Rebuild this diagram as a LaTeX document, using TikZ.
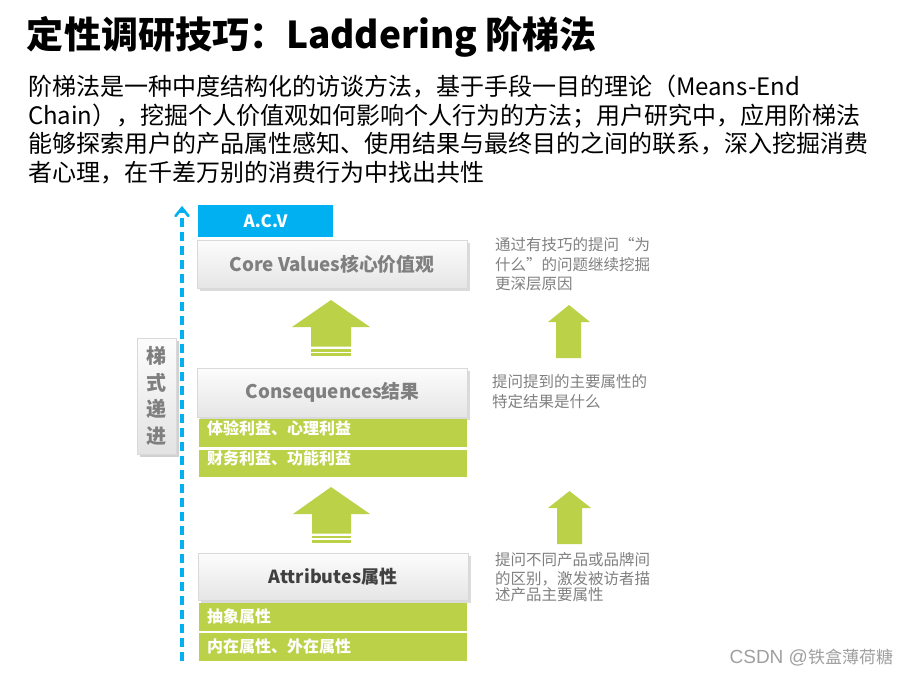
\documentclass[tikz,border=0pt]{standalone}
\usepackage{fontspec}
\setmainfont{Noto Sans CJK SC}
\newfontfamily\latinsans{Liberation Sans}
\usetikzlibrary{shadows,arrows.meta}
\definecolor{acvblue}{HTML}{00B0F0}
\definecolor{leaf}{HTML}{BBD147}
\definecolor{tiertext}{HTML}{7F7F7F}
\definecolor{tierdark}{HTML}{404040}
\definecolor{notegray}{HTML}{808080}
\newcommand{\fsz}[2]{\fontsize{#1}{#2}\selectfont}

\begin{document}
\begin{tikzpicture}[x=1pt,y=-1pt,
  every node/.style={inner sep=0pt, outer sep=0pt},
  tier/.style={draw=gray!30, line width=0.8pt, top color=gray!2, bottom color=gray!20,
    drop shadow={shadow xshift=2.5pt, shadow yshift=-2.5pt, opacity=0.35, fill=gray!80},
    minimum width=270pt, minimum height=48pt, font=\bfseries\fsz{18.8}{20}, text=tiertext},
  bar/.style={fill=leaf, minimum width=268pt, minimum height=28pt},
  bartext/.style={anchor=west, text=white, font=\bfseries\fsz{16}{18}},
  paraline/.style={anchor=base west, font=\fsz{24}{28}, text=black},
  note/.style={anchor=base west, font=\fsz{15.5}{19}, text=notegray},
  blockarrow/.style={fill=leaf},
]
\useasboundingbox (0,0) rectangle (909,675);

% heading and introduction
\node[anchor=base west, font=\bfseries\fsz{37}{40}] (title) at (27,48.5) {定性调研技巧：Laddering 阶梯法};
\node[paraline] (p1) at (28,95) {阶梯法是一种中度结构化的访谈方法，基于手段一目的理论（Means-End};
\node[paraline] (p2) at (28,124) {Chain），挖掘个人价值观如何影响个人行为的方法；用户研究中，应用阶梯法};
\node[paraline] (p3) at (28,152.5) {能够探索用户的产品属性感知、使用结果与最终目的之间的联系，深入挖掘消费};
\node[paraline] (p4) at (28,181) {者心理，在千差万别的消费行为中找出共性};

% progression axis
\coordinate (axisbot) at (182,661);
\coordinate (axistop) at (182,208);
\draw[line width=3.5pt, draw=acvblue, dash pattern=on 9pt off 5pt] (axisbot) -- (axistop);
\draw[line width=2.6pt, draw=acvblue, line cap=round, line join=miter]
  ([xshift=-6.5pt,yshift=-8pt]axistop) -- (axistop) -- ([xshift=6.5pt,yshift=-8pt]axistop);
\node[draw=gray!30, line width=0.6pt, top color=gray!2, bottom color=gray!22,
  drop shadow={shadow xshift=2.5pt, shadow yshift=-2.5pt, opacity=0.45, fill=gray!80},
  minimum width=39pt, minimum height=116pt, align=center, text=tiertext,
  font=\bfseries\fsz{20}{26.7}] (ladder) at (156.5,396) {梯\\式\\递\\进};

% tiers
\node[fill=acvblue, minimum width=135pt, minimum height=32pt, text=white,
  font=\bfseries\fsz{17}{19}] (acv) at (265.5,221) {A.C.V};
\node[tier] (core) at (332,264) {Core Values核心价值观};
\node[tier, minimum height=49pt] (cons) at (332.5,392.5) {Consequences结果};
\node[tier, minimum height=47pt, text=tierdark, font=\bfseries\fsz{18}{20}] (attr) at (333,576.5) {Attributes属性};

% benefit and attribute bars
\node[bar] (b1) at (333,433) {};
\node[bar, minimum height=27pt] (b2) at (333,463.5) {};
\node[bar] (b3) at (333,617) {};
\node[bar] (b4) at (333,647) {};
\node[bartext] (t1) at (207,428) {体验利益、心理利益};
\node[bartext] (t2) at (207,458) {财务利益、功能利益};
\node[bartext] (t3) at (207,616) {抽象属性};
\node[bartext] (t4) at (207,646) {内在属性、外在属性};

% large block arrows between tiers
\fill[blockarrow] (331,300) -- (370,327) -- (351,327) -- (351,346.5) -- (311,346.5)
  -- (311,327) -- (292,327) -- cycle;
\fill[blockarrow] (311,348.5) rectangle (351,351.5);
\fill[blockarrow] (311,353) rectangle (351,355.5);
\fill[blockarrow] (331,487) -- (370,514) -- (351,514) -- (351,533.5) -- (312,533.5)
  -- (312,514) -- (293,514) -- cycle;
\fill[blockarrow] (312,535.5) rectangle (351,538);
\fill[blockarrow] (312,540) rectangle (351,542.5);

% small arrows beside the notes
\fill[blockarrow] (569,305) -- (590,322) -- (581,322) -- (581,358) -- (556,358)
  -- (556,322) -- (548,322) -- cycle;
\fill[blockarrow] (569.5,491) -- (591,508) -- (582,508) -- (582,544) -- (557,544)
  -- (557,508) -- (548,508) -- cycle;

% notes
\node[note] (n1a) at (495,250.5) {通过有技巧的提问“为};
\node[note] (n1b) at (495,270) {什么”的问题继续挖掘};
\node[note] (n1c) at (495,289) {更深层原因};
\node[note] (n2a) at (492,387.5) {提问提到的主要属性的};
\node[note] (n2b) at (492,407.5) {特定结果是什么};
\node[note] (n3a) at (495,565.5) {提问不同产品或品牌间};
\node[note] (n3b) at (495,584.5) {的区别，激发被访者描};
\node[note] (n3c) at (495,600.5) {述产品主要属性};

% credit line
\node[anchor=east, text=gray!75, font=\fsz{17}{19}] (credit) at (893,658)
  {{\latinsans\fsz{19}{19}CSDN @}铁盒薄荷糖};
\end{tikzpicture}
\end{document}
